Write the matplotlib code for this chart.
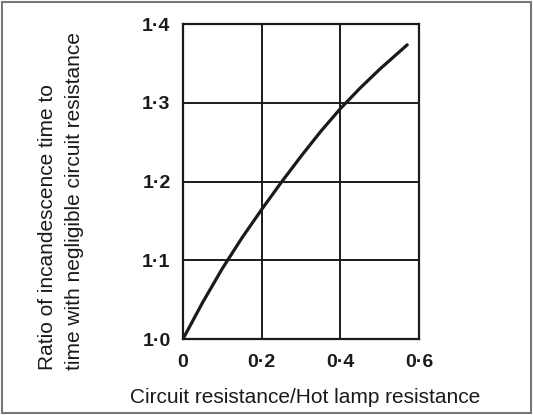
import matplotlib
matplotlib.use('Agg')
from matplotlib import pyplot as plt
from matplotlib.patches import Rectangle

# values
resistance_ratio = [0, 0.05, 0.1, 0.15, 0.2, 0.25, 0.3, 0.35, 0.4, 0.45, 0.5, 0.57]
time_ratio = [1.0, 1.0465, 1.0895, 1.1285, 1.1645, 1.199, 1.232, 1.2635, 1.2925, 1.3185, 1.3425, 1.3735]

x_ticks = [0, 0.2, 0.4, 0.6]
x_tick_labels = ['0', '0\u00b72', '0\u00b74', '0\u00b76']
y_ticks = [1.0, 1.1, 1.2, 1.3, 1.4]
y_tick_labels = ['1\u00b70', '1\u00b71', '1\u00b72', '1\u00b73', '1\u00b74']

plt.rcParams['font.family'] = ['Liberation Sans', 'DejaVu Sans']
ink = '#1a1a1a'

fig = plt.figure(figsize=(5.33, 4.15), dpi=100)
ax = fig.add_axes([183 / 533, 76 / 415, 236 / 533, 315 / 415])

ax.plot(resistance_ratio, time_ratio, color=ink, lw=2.3,
        solid_capstyle='round', solid_joinstyle='round')
ax.set_xlim(0, 0.6)
ax.set_ylim(1.0, 1.4)
ax.set_xticks(x_ticks)
ax.set_xticklabels(x_tick_labels, fontsize=14, fontweight='bold', color=ink)
ax.set_yticks(y_ticks)
ax.set_yticklabels(y_tick_labels, fontsize=14, fontweight='bold', color=ink)
ax.tick_params(axis='x', length=0, pad=11)
ax.tick_params(axis='y', length=0, pad=9)
ax.grid(True, color=ink, lw=1.4)
ax.set_axisbelow(True)
for s in ax.spines.values():
    s.set_color(ink)
    s.set_linewidth(1.6)

fig.text(305 / 533, 1 - 397 / 415, 'Circuit resistance/Hot lamp resistance',
         ha='center', va='center', fontsize=15, color=ink)
fig.text(48 / 533, 1 - 370 / 415, 'Ratio of incandescence time to',
         rotation=90, ha='center', va='bottom', fontsize=15, color=ink)
fig.text(75 / 533, 1 - 370 / 415, 'time with negligible circuit resistance',
         rotation=90, ha='center', va='bottom', fontsize=15, color=ink)

# frame round the whole figure
fig.patches.append(Rectangle((0.004, 0.006), 0.992, 0.99, transform=fig.transFigure,
                             fill=False, edgecolor='#777777', lw=1.5))

fig.savefig('out.png', dpi=100)
